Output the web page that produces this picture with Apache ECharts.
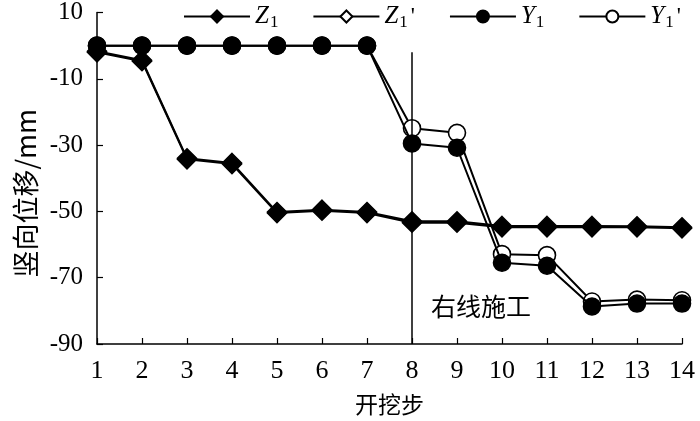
<!DOCTYPE html>
<html>
<head>
<meta charset="utf-8">
<script src="https://cdn.jsdelivr.net/npm/echarts@6/dist/echarts.min.js"></script>
<style>
  html, body { margin: 0; padding: 0; background: #fff; }
  #main { width: 700px; height: 421px; }
</style>
</head>
<body>
<div id="main"></div>
<script>
// 开挖步
const steps = ['1', '2', '3', '4', '5', '6', '7', '8', '9', '10', '11', '12', '13', '14']
// 竖向位移 (mm)
const z1 = [-2.0, -4.7, -34.3, -35.7, -50.5, -49.8, -50.5, -53.4, -53.4, -54.8, -54.8, -54.8, -54.8, -55.1]
const z1p = [-1.7, -4.4, -34.0, -35.4, -50.2, -49.5, -50.2, -53.0, -53.0, -54.4, -54.4, -54.4, -54.5, -54.8]
const y1 = [0, 0, 0, 0, 0, 0, 0, -29.5, -30.8, -65.5, -66.4, -78.7, -77.8, -77.8]
const y1p = [0, 0, 0, 0, 0, 0, 0, -24.9, -26.3, -62.9, -63.2, -77.2, -76.6, -76.8]
const yTicks = [-90, -70, -50, -30, -10, 10]
const markStep = '8'
const markText = '右线施工'

const serif = 'Liberation Serif'
const cjk = 'Noto Sans CJK SC'

const chart = echarts.init(document.getElementById('main'))

function lineSeries(name, data, symbol, filled, z) {
  return {
    name: name,
    type: 'line',
    data: data,
    z: z,
    symbol: symbol,
    symbolSize: symbol === 'diamond' ? 19 : 17,
    showSymbol: true,
    lineStyle: { color: '#000', width: 2 },
    itemStyle: { color: filled ? '#000' : '#fff', borderColor: '#000', borderWidth: 1.6 },
    emphasis: { disabled: true },
    animation: false
  }
}

const legendNames = {
  Z1: '{i|Z}{s|1}',
  "Z1'": "{i|Z}{s|1}{n|'}",
  Y1: '{i|Y}{s|1}',
  "Y1'": "{i|Y}{s|1}{n|'}"
}

const option = {
  animation: false,
  grid: { left: 97, right: 18, top: 10, bottom: 76 },
  legend: {
    top: -1,
    left: 178,
    itemWidth: 66,
    itemHeight: 15,
    itemGap: 34,
    data: ['Z1', "Z1'", 'Y1', "Y1'"],
    formatter: function (n) { return legendNames[n] },
    textStyle: {
      color: '#000',
      rich: {
        i: { fontFamily: serif, fontStyle: 'italic', fontSize: 25, color: '#000' },
        s: { fontFamily: serif, fontSize: 17, color: '#000', verticalAlign: 'bottom', padding: [12, 0, 0, 1] },
        n: { fontFamily: serif, fontSize: 23, color: '#000', padding: [0, 0, 0, 3] }
      }
    }
  },
  xAxis: {
    type: 'category',
    data: steps,
    boundaryGap: false,
    name: '开挖步',
    nameLocation: 'middle',
    nameGap: 49,
    nameTextStyle: { fontFamily: cjk, fontSize: 23, color: '#000' },
    axisLine: { onZero: false, lineStyle: { color: '#000', width: 1.5 } },
    axisTick: { inside: true, length: 6, lineStyle: { color: '#000', width: 1.2 } },
    axisLabel: { fontFamily: serif, fontSize: 26, color: '#000', margin: 14 },
    splitLine: { show: false }
  },
  yAxis: {
    type: 'value',
    min: -90,
    max: 10,
    name: '竖向位移/mm',
    nameLocation: 'middle',
    nameGap: 58,
    nameTextStyle: { fontFamily: cjk, fontSize: 27, color: '#000', padding: [0, 30, 0, 0] },
    axisLine: { show: true, lineStyle: { color: '#000', width: 1.5 } },
    axisTick: { show: true, inside: true, length: 6, customValues: yTicks, lineStyle: { color: '#000', width: 1.2 } },
    axisLabel: { fontFamily: serif, fontSize: 25, color: '#000', margin: 14, customValues: yTicks },
    splitLine: { show: false }
  },
  series: [
    lineSeries("Z1'", z1p, 'diamond', false, 2),
    lineSeries('Z1', z1, 'diamond', true, 3),
    lineSeries("Y1'", y1p, 'circle', false, 4),
    Object.assign(lineSeries('Y1', y1, 'circle', true, 5), {
      markLine: {
        silent: true,
        symbol: 'none',
        label: { show: false },
        lineStyle: { color: '#000', width: 1.5, type: 'solid' },
        data: [[{ coord: [markStep, -2] }, { coord: [markStep, -90] }]]
      },
      markPoint: {
        silent: true,
        symbol: 'circle',
        symbolSize: 1,
        itemStyle: { color: 'rgba(0,0,0,0)', borderWidth: 0 },
        data: [{ coord: ['9', -78.7] }],
        label: {
          show: true,
          position: 'inside',
          formatter: markText,
          offset: [24, 0],
          fontFamily: cjk,
          fontSize: 25,
          color: '#000'
        }
      }
    })
  ]
}

chart.setOption(option)
</script>
</body>
</html>
